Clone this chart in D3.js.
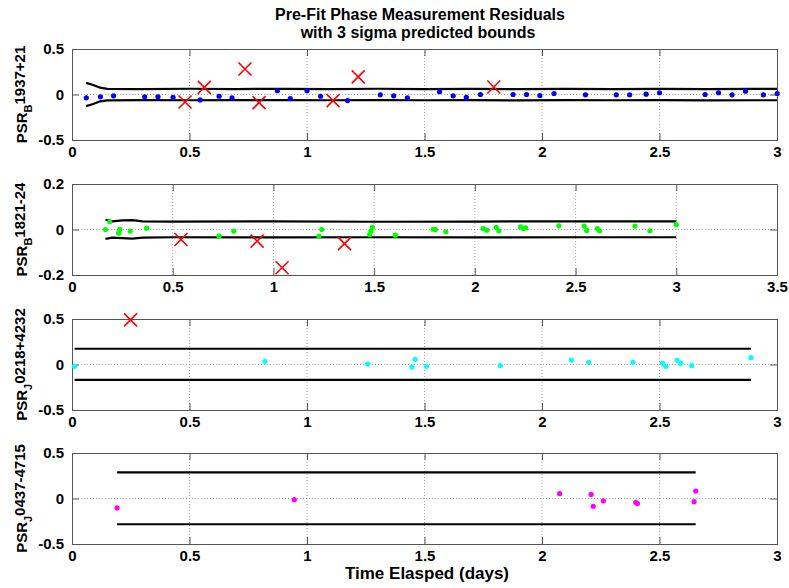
<!DOCTYPE html>
<html><head><meta charset="utf-8">
<script src="https://cdn.jsdelivr.net/npm/d3@7"></script>
<style>body{margin:0;background:#fff}svg{display:block}text{font-family:"Liberation Sans",Arial,Helvetica,sans-serif;font-weight:bold;fill:#000}</style>
</head><body><svg id="c" width="789" height="588"></svg>
<script>
// ---------- data ----------
const titleLines = ["Pre-Fit Phase Measurement Residuals", "with 3 sigma predicted bounds"];
const xLabel = "Time Elasped (days)";

// Panel 1: PSR_B 1937+21
const p1X = [0.061,0.121,0.177,0.309,0.366,0.430,0.545,0.626,0.681,0.874,0.929,1.000,1.058,1.173,1.312,1.369,1.427,1.564,1.622,1.678,1.738,1.877,1.934,1.991,2.051,2.185,2.316,2.373,2.443,2.500,2.694,2.751,2.809,2.866,2.942,3.001];
const p1Y = [-0.037,-0.026,-0.015,-0.026,-0.026,-0.030,-0.060,-0.019,-0.037,0.041,-0.045,0.041,-0.019,-0.067,-0.004,-0.015,-0.037,0.030,-0.015,-0.030,0.000,0.000,0.000,-0.011,0.011,-0.004,-0.004,-0.004,0.004,0.019,0.000,0.019,-0.004,0.037,-0.004,0.011];
const p1OutX = [0.481,0.563,0.736,0.796,1.111,1.218,1.795];
const p1OutY = [-0.082,0.078,0.280,-0.090,-0.067,0.194,0.082];
const p1BX  = [0.06,0.09,0.12,0.15,0.3,0.5,0.7,0.9,1.1,1.3,1.5,1.7,1.9,2.1,2.3,2.5,2.7,2.9,3.0];
const p1BUp = [0.128,0.105,0.075,0.062,0.060,0.063,0.060,0.062,0.059,0.063,0.060,0.062,0.059,0.061,0.060,0.062,0.059,0.062,0.062];
const p1BLo = [-0.128,-0.105,-0.075,-0.064,-0.062,-0.063,-0.062,-0.061,-0.063,-0.062,-0.063,-0.062,-0.064,-0.062,-0.063,-0.062,-0.064,-0.063,-0.063];

// Panel 2: PSR_B 1821-24
const p2X = [0.166,0.187,0.237,0.232,0.289,0.371,0.730,0.803,1.226,1.240,1.478,1.484,1.491,1.605,1.793,1.805,1.856,2.041,2.060,2.106,2.119,2.227,2.240,2.253,2.417,2.543,2.555,2.608,2.619,2.795,2.869,3.000];
const p2Y = [0.000,0.034,0.001,-0.016,-0.007,0.006,-0.029,-0.007,-0.029,0.000,-0.022,-0.007,0.010,-0.025,0.001,0.000,-0.010,0.004,-0.003,0.010,-0.006,0.012,0.004,0.007,0.016,0.015,-0.004,0.004,-0.006,0.015,-0.006,0.022];
const p2OutX = [0.541,0.919,1.043,1.353];
const p2OutY = [-0.044,-0.051,-0.168,-0.062];
const p2BX  = [0.166,0.20,0.25,0.30,0.35,0.5,1.0,1.5,2.0,2.5,3.0];
const p2BUp = [0.043,0.036,0.040,0.041,0.036,0.035,0.036,0.034,0.035,0.036,0.036];
const p2BLo = [-0.041,-0.036,-0.038,-0.040,-0.036,-0.034,-0.035,-0.034,-0.035,-0.034,-0.034];

// Panel 3: PSR_J 0218+4232
const p3X = [0.011,0.821,1.258,1.447,1.460,1.508,1.823,2.125,2.199,2.387,2.513,2.527,2.575,2.590,2.637,2.889];
const p3Y = [-0.020,0.035,0.005,-0.027,0.057,-0.020,-0.013,0.049,0.024,0.024,0.016,-0.020,0.046,0.013,-0.013,0.075];
const p3OutX = [0.249];
const p3OutY = [0.490];
const p3BX  = [0.011,2.889];
const p3BUp = [0.173,0.173];
const p3BLo = [-0.168,-0.168];

// Panel 4: PSR_J 0437-4715
const p4X = [0.192,0.946,2.075,2.209,2.218,2.261,2.399,2.406,2.647,2.654];
const p4Y = [-0.104,-0.013,0.053,0.045,-0.085,-0.027,-0.042,-0.056,-0.035,0.082];
const p4OutX = [];
const p4OutY = [];
const p4BX  = [0.192,2.654];
const p4BUp = [0.287,0.287];
const p4BLo = [-0.283,-0.283];

const panels = [
  {pre:"PSR", sub:"B", post:"1937+21", color:"#0000ff", x:p1X, y:p1Y, ox:p1OutX, oy:p1OutY, bx:p1BX, bu:p1BUp, bl:p1BLo, xd:[0,3], xt:[0,0.5,1,1.5,2,2.5,3], yd:[-0.5,0.5], yt:[-0.5,0,0.5]},
  {pre:"PSR", sub:"B", post:"1821-24", color:"#00ff00", x:p2X, y:p2Y, ox:p2OutX, oy:p2OutY, bx:p2BX, bu:p2BUp, bl:p2BLo, xd:[0,3.5], xt:[0,0.5,1,1.5,2,2.5,3,3.5], yd:[-0.2,0.2], yt:[-0.2,0,0.2]},
  {pre:"PSR", sub:"J", post:"0218+4232", color:"#00ffff", x:p3X, y:p3Y, ox:p3OutX, oy:p3OutY, bx:p3BX, bu:p3BUp, bl:p3BLo, xd:[0,3], xt:[0,0.5,1,1.5,2,2.5,3], yd:[-0.5,0.5], yt:[-0.5,0,0.5]},
  {pre:"PSR", sub:"J", post:"0437-4715", color:"#ff00ff", x:p4X, y:p4Y, ox:p4OutX, oy:p4OutY, bx:p4BX, bu:p4BUp, bl:p4BLo, xd:[0,3], xt:[0,0.5,1,1.5,2,2.5,3], yd:[-0.5,0.5], yt:[-0.5,0,0.5]}
];

// ---------- layout ----------
const svg = d3.select("#c");
const L = 72, R = 777, tops = [49,184,319,453], PH = 91;
const fmt = d => String(d);

svg.append("text").attr("x", 420).attr("y", 20).attr("text-anchor","middle").style("font-size","16px").text(titleLines[0]);
svg.append("text").attr("x", 418).attr("y", 38).attr("text-anchor","middle").style("font-size","16px").text(titleLines[1]);

panels.forEach((p, i) => {
  const top = tops[i], bot = top + PH;
  const x = d3.scaleLinear().domain(p.xd).range([L, R]);
  const y = d3.scaleLinear().domain(p.yd).range([bot, top]);
  const g = svg.append("g");

  // grid
  g.selectAll(".gx").data(p.xt.slice(1, -1)).join("line")
    .attr("x1", d => x(d)).attr("x2", d => x(d)).attr("y1", top).attr("y2", bot)
    .attr("stroke", "#aaa").attr("stroke-width", 1).attr("stroke-dasharray", "1,2");
  g.selectAll(".gy").data(p.yt.slice(1, -1)).join("line")
    .attr("x1", L).attr("x2", R).attr("y1", d => y(d)).attr("y2", d => y(d))
    .attr("stroke", "#aaa").attr("stroke-width", 1).attr("stroke-dasharray", "1,2");

  // axes (inward ticks, mirrored)
  const tl = 7;
  const ax = (a) => a.tickSizeOuter(0).tickSizeInner(-tl).tickPadding(6);
  const xb = g.append("g").attr("transform", `translate(0,${bot})`).call(ax(d3.axisBottom(x).tickValues(p.xt).tickFormat(fmt)));
  const xtp = g.append("g").attr("transform", `translate(0,${top})`).call(ax(d3.axisTop(x).tickValues(p.xt).tickFormat("")));
  const yl = g.append("g").attr("transform", `translate(${L},0)`).call(ax(d3.axisLeft(y).tickValues(p.yt).tickFormat(fmt)));
  const yr = g.append("g").attr("transform", `translate(${R},0)`).call(ax(d3.axisRight(y).tickValues(p.yt).tickFormat("")));
  [xb, xtp, yl, yr].forEach(a => {
    a.select(".domain").remove();
    a.selectAll("line").attr("stroke", "#555");
    a.selectAll("text").style("font-size", "15px").attr("fill", "#000").style("font-family", '"Liberation Sans",Arial,sans-serif').style("font-weight","bold");
  });
  xb.selectAll("text").attr("dy", null).attr("y", 17);
  yl.selectAll("text").attr("x", -8);

  // frame
  g.append("rect").attr("x", L + 0.5).attr("y", top + 0.5).attr("width", R - L).attr("height", PH)
    .attr("fill", "none").attr("stroke", "#555").attr("stroke-width", 1);

  // bounds
  const ln = d3.line().x(d => x(d[0])).y(d => y(d[1]));
  g.append("path").datum(p.bx.map((v, k) => [v, p.bu[k]])).attr("d", ln)
    .attr("fill", "none").attr("stroke", "#000").attr("stroke-width", 2.2);
  g.append("path").datum(p.bx.map((v, k) => [v, p.bl[k]])).attr("d", ln)
    .attr("fill", "none").attr("stroke", "#000").attr("stroke-width", 2.2);

  // points
  g.selectAll(".pt").data(p.x.map((v, k) => [v, p.y[k]])).join("circle")
    .attr("cx", d => x(d[0])).attr("cy", d => y(d[1])).attr("r", 2.6).attr("fill", p.color);

  // outliers (red X)
  const s = 6.5;
  const og = g.selectAll(".ox").data(p.ox.map((v, k) => [v, p.oy[k]])).join("g")
    .attr("transform", d => `translate(${x(d[0])},${y(d[1])})`);
  og.append("path").attr("d", `M${-s},${-s}L${s},${s}M${-s},${s}L${s},${-s}`)
    .attr("stroke", "#ff0000").attr("stroke-width", 1.6).attr("fill", "none");

  // y label
  const t = svg.append("text").attr("transform", `translate(27,${top + PH / 2}) rotate(-90)`)
    .attr("text-anchor", "middle").style("font-size", "15px");
  t.append("tspan").text(p.pre);
  t.append("tspan").attr("dy", 5).style("font-size", "11px").text(p.sub);
  t.append("tspan").attr("dy", -7).text(p.post);
});

svg.append("text").attr("x", 427).attr("y", 579).attr("text-anchor", "middle").style("font-size", "17px").text(xLabel);
</script></body></html>
